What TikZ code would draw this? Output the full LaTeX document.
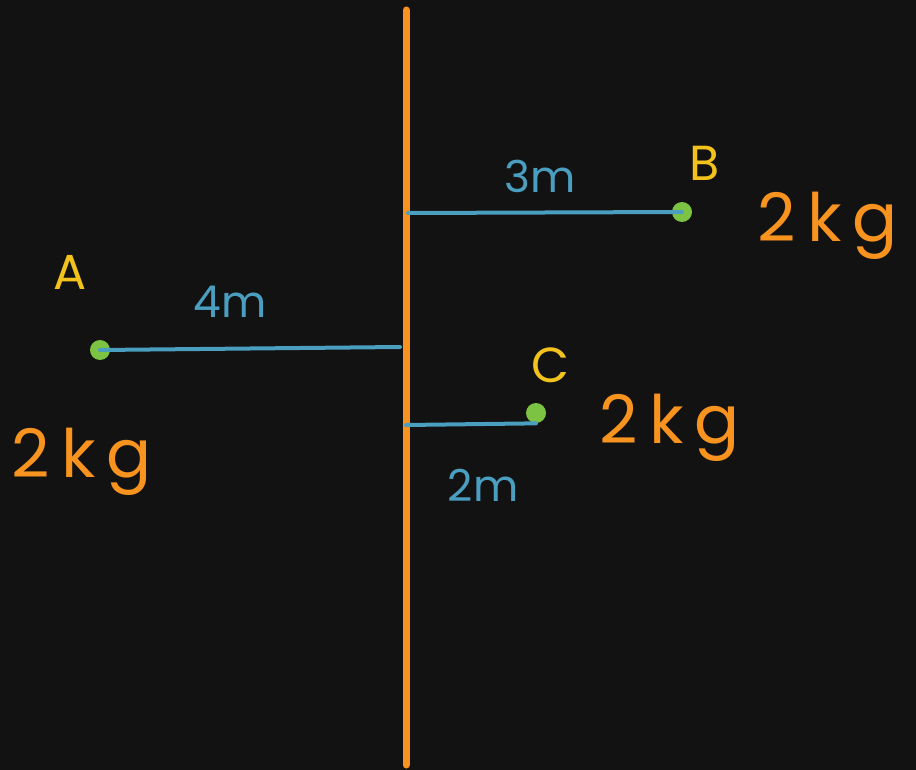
\documentclass[tikz,border=0pt]{standalone}
\usepackage{fontspec}
\setmainfont{Poppins}
\definecolor{bg}{HTML}{121212}
\definecolor{orng}{HTML}{F7931E}
\definecolor{blu}{HTML}{4A9EC0}
\definecolor{grn}{HTML}{7CC243}
\definecolor{yel}{HTML}{F4C21C}
\begin{document}
\begin{tikzpicture}[x=0.02cm,y=-0.02cm,
  wall/.style={orng,line width=7*0.02cm,line cap=round},
  rod/.style={blu,line width=4*0.02cm,line cap=round},
  mass/.style={circle,fill=grn,inner sep=0pt,minimum size=20*0.02cm},
  lett/.style={text=yel,font=\fontsize{28}{30}\selectfont},
  dist/.style={text=blu,font=\fontsize{25}{27}\selectfont},
  kg/.style={text=orng,font=\fontsize{38}{40}\selectfont}]
\fill[bg] (0,0) rectangle (916,770);
\useasboundingbox (0,0) rectangle (916,770);
\coordinate (wt) at (406,10);
\coordinate (wb) at (406,765);
\draw[wall] (wt) -- (wb);
\node[mass] (A) at (100,350) {};
\node[mass] (B) at (682,212) {};
\node[mass] (C) at (536,413) {};
\coordinate (wA) at (400,347);
\coordinate (wB) at (408,213);
\coordinate (wC) at (406,425);
\draw[rod] (A.center) -- (wA);
\draw[rod] (wB) -- (B.center);
\draw[rod] (wC) -- (C.south);
\node[lett] (lA) at (70,272) {A};
\node[lett] (lB) at (705,163) {B};
\node[lett] (lC) at (550,365) {C};
\node[dist] (d4) at (230,302) {4m};
\node[dist] (d3) at (540,176) {3m};
\node[dist] (d2) at (483,485) {2m};
\node[kg] (kA) at (82,462) {2\,k\,g};
\node[kg] (kB) at (828,226) {2\,k\,g};
\node[kg] (kC) at (670,428) {2\,k\,g};
\end{tikzpicture}
\end{document}
